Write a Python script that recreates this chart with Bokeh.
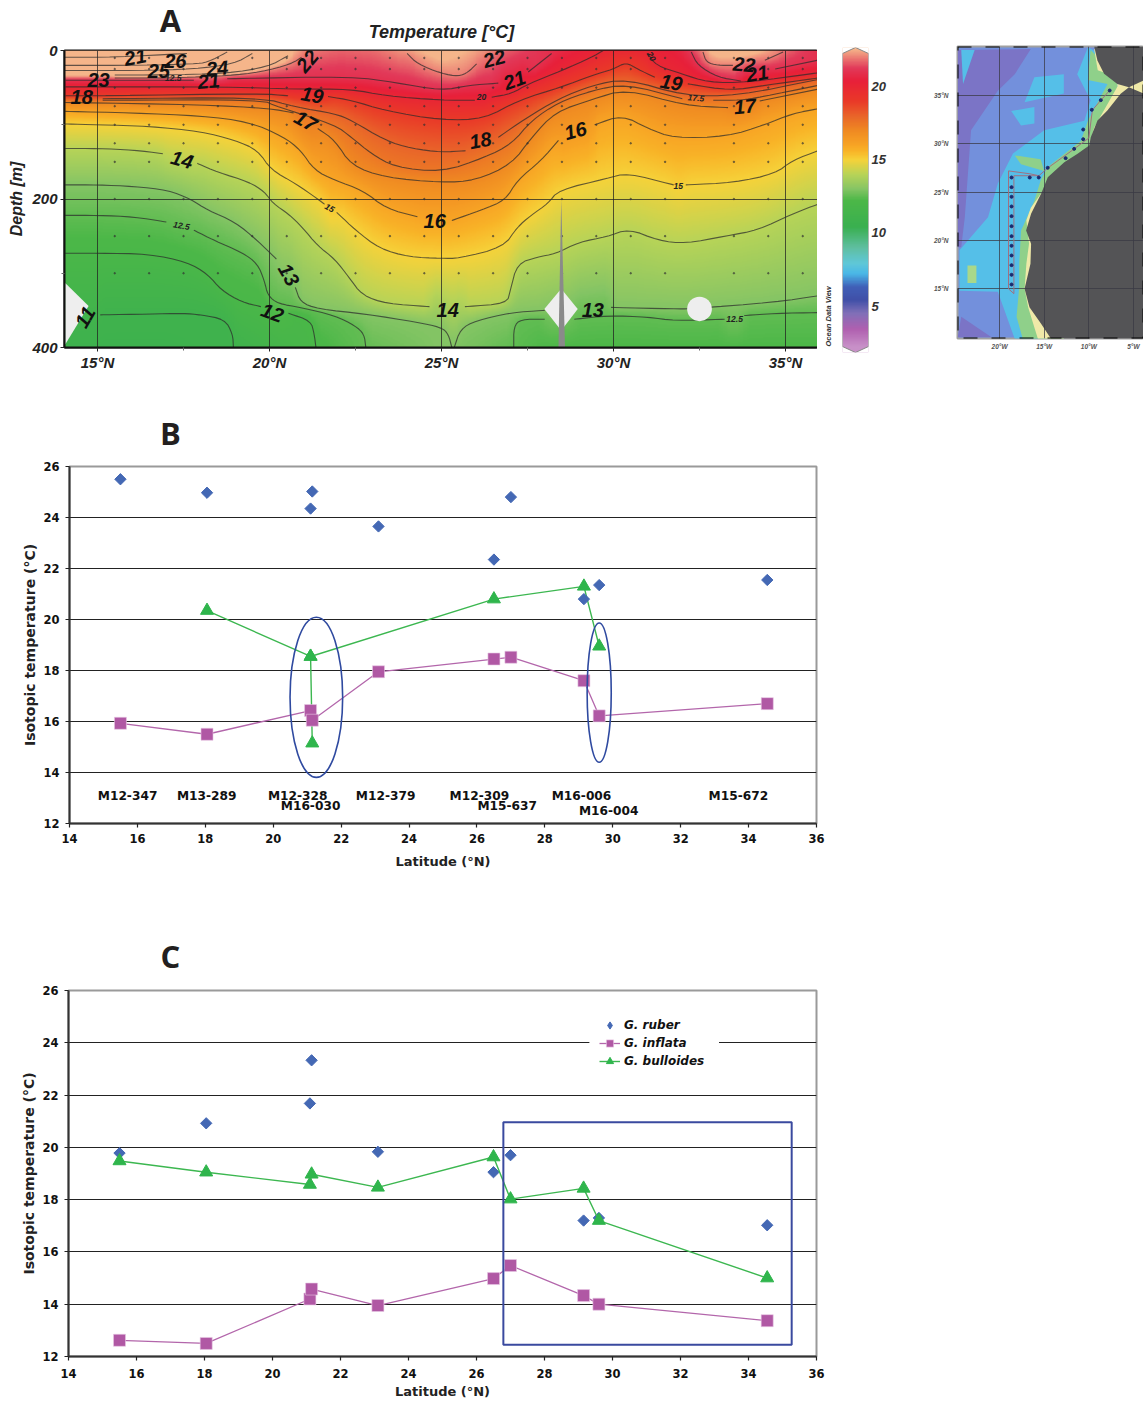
import numpy as np
from bokeh.plotting import figure
from bokeh.layouts import row, column
from bokeh.embed import file_html
from bokeh.resources import INLINE
from bokeh.models import FixedTicker, LinearColorMapper, Legend, LegendItem, LinearAxis
from bokeh.core.properties import value

# ---------- panel A: isotherms (T, latitudes, depths) ----------
iso_11 = (11, [15.08, 16.5, 17.5, 18.0, 18.7, 18.93, 18.95], [356, 355, 354, 356, 362, 382, 400])
iso_12a = (12, [14.06, 15, 16.5, 17.6, 18.2, 18.6, 19.2, 19.75], [273, 273, 274, 285, 301, 323, 339, 345])
iso_12b = (12, [20.55, 21.2, 21.3, 21.35], [354, 364, 382, 400])
iso_125a = (12.5, [14.06, 15, 16.05, 17.0], [222, 222, 224, 231])
iso_125b = (12.5, [17.8, 18.4, 19.2, 19.65, 19.85, 19.95, 20.25, 20.9, 21.9, 22.5, 22.75, 22.8],
            [242, 256, 272, 287, 310, 330, 341, 346, 357, 371, 382, 400])
iso_125c = (12.5, [27.1, 27.1, 27.3, 28.0], [400, 372, 362, 362])
iso_125d = (12.5, [28.86, 29.83, 31.0, 31.78, 33.23], [362, 357, 359, 364, 362])
iso_125e = (12.5, [33.8, 34.7, 36], [357, 354, 353])
iso_13a = (13, [14.06, 15, 16.05, 17.05, 17.7, 18.2, 19, 19.65, 20.2], [181, 181, 183, 188, 200, 215, 231, 256, 281])
iso_13b = (13, [20.75, 20.9, 21.4, 22.8, 24.3, 25, 25.2, 25.3], [319, 339, 348, 355, 366, 373, 382, 400])
iso_13c = (13, [25.37, 25.55, 26, 27, 28], [400, 375, 364, 353, 350])
iso_13d = (13, [29.93, 31.8, 32.2, 34.7, 36], [346, 348, 348, 339, 330])
iso_14a = (14, [14.06, 15, 16.05, 16.9], [132, 132, 134, 139])
iso_14b = (14, [17.9, 18.5, 19.4, 19.85, 20.1, 20.55, 20.95, 21.4, 21.9, 22.3, 22.7, 23.4, 24.65],
           [152, 164, 177, 190, 206, 220, 238, 263, 281, 305, 330, 341, 345])
iso_14c = (14, [25.68, 26.9, 27.0, 27.2, 27.8, 28.3, 29, 29.8, 30.45, 31.3, 32.1, 33.25, 34.2, 35.2, 36],
           [345, 341, 323, 287, 278, 274, 258, 251, 240, 256, 260, 250, 242, 220, 206])
iso_15a = (15, [14.06, 15, 16.5, 18, 19, 19.65, 20.05, 20.75, 21.4, 21.6], [99, 100, 102, 109, 121, 134, 161, 179, 200, 207])
iso_15b = (15, [21.95, 22, 22.5, 23.2, 24.05, 25, 25.5, 26.8, 27.2, 27.6, 28.1, 28.4, 29.83, 30.4, 31.75],
           [218, 220, 242, 267, 278, 280, 280, 265, 238, 222, 206, 188, 172, 165, 181])
iso_15c = (15, [32.1, 33.5, 34.7, 35.2, 36], [181, 178, 166, 148, 134])
iso_16a = (16, [14.06, 16, 18, 19.4, 20.4, 20.9, 21.3, 21.9, 22.7, 23.4, 24.3], [82, 84, 88, 96, 116, 134, 161, 175, 188, 213, 224])
iso_16b = (16, [25.3, 26.15, 26.85, 27.2, 27.9, 28.4], [229, 215, 202, 175, 148, 121])
iso_16c = (16, [29.45, 30.25, 31, 31.75, 33.3, 34.4, 35.2, 36], [100, 87, 105, 118, 116, 100, 85, 78])
iso_17a = (17, [14.06, 18, 20, 20.7], [70, 73, 78, 84])
iso_17b = (17, [21.4, 21.9, 22.38, 23.35, 25, 26, 27.04, 27.62, 28.3, 29.37, 30.36, 32.06, 33.33],
           [105, 121, 155, 171, 178, 175, 153, 117, 83, 66, 52, 74, 77])
iso_17c = (17, [34.25, 35.95], [68, 52])
iso_175a = (17.5, [15.15, 19.75, 20.25, 21.9, 22.38, 22.96, 23.64, 25, 26.26, 27.04, 27.62, 28.4, 29.37, 30.36, 32.0],
            [67, 66, 76, 100, 117, 139, 157, 164, 144, 126, 94, 70, 54, 45, 65])
iso_175b = (17.5, [32.9, 33.7, 34.25, 35.95], [67, 67, 63, 47])
iso_18a = (18, [15.15, 19.75, 20.73, 21.9, 22.38, 23.35, 24.13, 25, 25.7], [65, 63, 76, 85, 94, 121, 132, 137, 135])
iso_18b = (18, [26.65, 27.43, 28.4, 29.37, 30.36, 32.06, 33.6, 35.95], [117, 92, 65, 47, 38, 61, 61, 39])
iso_19a = (19, [14.07, 15.15, 19.75, 20.54], [61, 61, 58, 61])
iso_19b = (19, [21.7, 22.38, 23.35, 25, 26.26, 27.23, 28.5, 29.34, 30, 30.36, 30.7, 31.2], [62, 67, 81, 94, 92, 67, 49, 34, 25, 16, 25, 36])
iso_19c = (19, [32.16, 33.4, 34.4, 35.95], [45, 54, 47, 37])
iso_20a = (20, [14.07, 18.77, 20.73, 22.38, 23.35, 25, 25.97], [49, 49, 52, 52, 61, 67, 67])
iso_20b = (20, [26.46, 27.04, 27.52, 28.5, 29.37, 29.7], [63, 58, 45, 27, 9, 0])
iso_20c = (20, [31, 31.23, 31.96, 32.74, 33.9, 35.95], [4, 20, 31, 43, 43, 30])
iso_21a = (21, [14.07, 15.5, 17.8], [40, 40, 40])
iso_21b = (21, [18.77, 22.4, 23.64, 25, 25.78, 26.65], [38, 35, 43, 54, 47, 44])
iso_21c = (21, [27.52, 28.2], [29, 4])
iso_21d = (21, [32.26, 32.45, 33.03, 33.7], [2, 20, 36, 41])
iso_21e = (21, [34.7, 35.95], [25, 13])
iso_22a = (22, [15.5, 16.8, 17.7, 18.77, 19.75, 20.64, 20.93], [37, 37, 36, 34, 29, 18, 9])
iso_22b = (22, [24, 24.3, 25, 25.5, 25.78, 26.02], [4, 18, 31, 35, 29, 18])
iso_22c = (22, [32.6, 32.7, 33.03, 33.47], [2, 16, 20, 20])
iso_22d = (22, [34.4, 34.93], [13, 2])
iso_23a = (23, [15.5, 16.8, 18.77, 19.95, 20.54], [33, 33, 31, 22, 7])
iso_24a = (24, [14, 16.2, 17.8, 18.97, 19.5], [27, 27, 25, 18, 4])
iso_25a = (25, [14, 16.3, 17.8, 18.2, 18.77], [20, 20, 18, 16, 2])
iso_26a = (26, [14, 15.5, 17.6], [9, 9, 4])

isotherms = [iso_11, iso_12a, iso_12b, iso_125a, iso_125b, iso_125c, iso_125d, iso_125e, iso_13a, iso_13b,
             iso_13c, iso_13d, iso_14a, iso_14b, iso_14c, iso_15a, iso_15b, iso_15c, iso_16a, iso_16b, iso_16c,
             iso_17a, iso_17b, iso_17c, iso_175a, iso_175b, iso_18a, iso_18b, iso_19a, iso_19b, iso_19c,
             iso_20a, iso_20b, iso_20c, iso_21a, iso_21b, iso_21c, iso_21d, iso_21e, iso_22a, iso_22b, iso_22c,
             iso_22d, iso_23a, iso_24a, iso_25a, iso_26a]

column_lat = list(range(14, 37))
surface_t = [27, 27, 27, 27, 27, 26, 24, 22, 21.7, 21.8, 22.3, 23, 22.4, 21.6, 21, 20.4, 19.9, 20, 20.6, 23, 23, 21.8, 20.9]
bottom_t = [10.8, 10.8, 10.8, 10.8, 10.9, 11, 11.5, 11.9, 12.3, 12.6, 12.8, 13, 12.8, 12.5, 12.2, 12.2, 12.2, 12.2, 12.2, 12.2, 12.2, 12.2, 12.2]

big_labels = [("21", 16.1, 9, 10), ("26", 17.26, 14, 0), ("25", 16.78, 27, 0), ("24", 18.48, 24, 5), ("23", 15.03, 40, 0),
              ("21", 18.23, 41, 5), ("18", 14.54, 63, 0), ("22", 21.1, 14, 50), ("19", 21.24, 60, -10), ("17", 21.05, 95, -30),
              ("14", 17.46, 147, -15), ("16", 24.8, 229, 0), ("13", 20.56, 302, -60), ("12", 20.08, 353, -20), ("14", 25.18, 350, 0),
              ("11", 14.64, 359, 60), ("22", 26.53, 11, 15), ("21", 27.12, 40, 20), ("18", 26.13, 121, 10), ("16", 28.89, 108, 15),
              ("13", 29.4, 350, 0), ("19", 31.68, 43, -10), ("22", 33.8, 19, -5), ("21", 34.18, 31, 10), ("17", 33.82, 75, 5)]
small_labels = [("15", 21.75, 212, -30), ("12.5", 17.44, 236, -10), ("20", 26.16, 63, 0), ("17.5", 32.4, 64, -5),
                ("15", 31.88, 183, 0), ("12.5", 33.52, 361, 0), ("12.5", 17.2, 37, 0), ("20", 31.1, 8, -60)]

station_lat = [15.5, 16.5, 17.5, 18.5, 19.5, 20.5, 21.5, 22.5, 23.5, 24.5, 25.5, 26.5, 27.5, 28.5, 29.5, 30.5, 31.5, 33.5, 34.5, 35.5]
sample_depth = [10, 25, 50, 75, 100, 125, 150, 200, 250, 300]

ct_values = [2.2, 3.4, 4.5, 5.4, 6.3, 7.2, 7.9, 9, 10.4, 12.2, 13, 14, 15, 15.6, 16, 17, 18, 19, 20.4, 21.3, 22.6]
ct_colors = ["#c890c8", "#b060b0", "#8070b8", "#4050a8", "#4060b8", "#4ab8e8", "#60c8d8", "#5fbfa0", "#3ab050",
             "#4cb848", "#85c565", "#b8d458", "#f6d23a", "#f9b428", "#f8a525", "#f08a22", "#e9652a", "#ea3a28",
             "#e8203a", "#e23a5a", "#f5b58a"]

# ---------- panels B and C ----------
lat = [15.5, 18.05, 21.1, 21.15, 23.1, 26.5, 27.0, 29.15, 29.6, 34.55]
b_ruber = [25.5, 24.97, 24.35, 25.02, 23.65, 22.35, 24.8, 20.8, 21.35, 21.55]
b_inflata = [15.93, 15.5, 16.43, 16.05, 17.95, 18.45, 18.52, 17.6, 16.22, 16.7]
b_bull_lat = [18.05, 21.1, 21.15, 21.1, 26.5, 29.15, 29.6]
b_bull = [20.35, 18.55, 15.15, 18.55, 20.8, 21.3, 18.95]
c_ruber = [19.78, 20.92, 21.68, 23.33, 19.83, 19.05, 19.7, 17.2, 17.3, 17.02]
c_inflata = [12.62, 12.5, 14.2, 14.58, 13.95, 14.98, 15.48, 14.33, 14.0, 13.37]
c_bull = [19.48, 19.05, 18.58, 18.97, 18.47, 19.63, 18.02, 18.43, 17.2, 15.0]
core_names = ["M12-347", "M13-289", "M12-328", "M16-030", "M12-379", "M12-309", "M15-637", "M16-006", "M16-004", "M15-672"]
core_x = [15.71, 18.04, 20.72, 21.10, 23.31, 26.07, 26.89, 29.08, 29.88, 33.70]
core_y = [13.07, 13.07, 13.07, 12.68, 13.07, 13.07, 12.68, 13.07, 12.48, 13.07]
tick_x = [14, 16, 18, 20, 22, 24, 26, 28, 30, 32, 34, 36]
tick_y = [12, 14, 16, 18, 20, 22, 24, 26]

# ---------- map (lon, lat) ----------
map_purple = ([-24.7, -16.5, -18.3, -20.2, -23.2, -23.9, -24.3, -24.7], [39.7, 39.8, 37.2, 35.5, 31.4, 22.4, 19.3, 19.3])
map_purple2 = ([-24.3, -20.9, -24.7], [12.1, 10, 10])
map_cyan = ([-10.1, -11.3, -9.8, -10.5, -15, -18.5, -20.2, -21.3, -24.5, -24.5, -20.2, -18.3, -12.8, -6.8, -6.8],
            [40, 37.2, 34.5, 32.4, 31.4, 29, 25.9, 22.4, 19, 14.8, 14.7, 9.8, 9.8, 31.4, 38.3])
map_cyan2 = ([-24.3, -22.8, -24.1], [39.7, 39.7, 36.2])
map_cyan3 = ([-16.1, -12.8, -12.8, -17.2], [36.9, 37.2, 35.2, 34.3])
map_cyan4 = ([-18.7, -16.1, -16.1, -17.6], [33.4, 33.8, 32.1, 31.9])
map_green = ([-9.8, -10.1, -7.9, -10.1, -10.9, -14.6, -15.4, -16.1, -17.6, -17.8, -17.8, -18.1, -17.4, -12.8, -6.8, -6.8],
             [39.7, 36.6, 36.2, 32.4, 30.3, 27.6, 26.2, 24.1, 21, 17.6, 15.2, 12.1, 9.8, 9.8, 31.4, 36.9])
map_green2 = ([-18.3, -15.4, -15, -17.6], [28.8, 28.4, 27.2, 27.9])
map_green3 = ([-23.6, -22.6, -22.6, -23.6], [17.4, 17.4, 15.6, 15.6])
map_yellow = ([-9.4, -9, -6.8, -6.8, -9.4, -10.1, -14.6, -15.4, -16.5, -17, -16.7, -17, -17.2, -16.8, -15.7, -12.8, -3.87, -3.87],
              [39.8, 37.6, 36.9, 35.9, 31.7, 29.3, 25.9, 24.8, 23.4, 22.1, 19.7, 17.6, 15, 13.1, 9.8, 9.8, 31.4, 38.3])
map_africa = ([-5.5, -6.43, -7.92, -9.03, -9.78, -9.96, -11.26, -12.75, -14.6, -15.35, -16.47, -17.03, -16.47, -16.54, -17.2, -16.65, -15.35, -14.24, -3.87, -3.87],
              [35.86, 35.17, 33.45, 32.41, 30.69, 29.83, 28.97, 28.1, 26.55, 24.83, 22.76, 21.03, 19.66, 17.59, 15, 13.1, 11.38, 9.83, 9.83, 35.2])
map_iberia = ([-9.4, -9.03, -8.29, -6.8, -5.5, -3.87, -3.87], [40.07, 38.62, 37.24, 36.2, 35.86, 36.55, 40.07])
map_st_lon = [-18.66] * 12 + [-16.62, -15.61, -14.61, -12.6, -11.64, -10.63, -10.63, -9.67, -8.66, -7.66]
map_st_lat = [26.52, 25.52, 24.52, 23.52, 22.52, 21.48, 20.45, 19.45, 18.45, 17.45, 16.45, 15.45,
              26.52, 26.52, 27.52, 28.52, 29.48, 30.48, 31.48, 33.52, 34.52, 35.52]
track_lon = [-18.4, -18.4, -15.6, -14.6, -11.6, -10.0, -9.6, -7.6]
track_lat = [14.5, 26.7, 26.7, 27.5, 29.5, 30.6, 33.5, 35.6]
track2_lon = [-18.4, -19, -19, -16.6, -15.6]
track2_lat = [14.5, 15.0, 27.2, 26.9, 26.7]


def chaikin(xs, ys, rounds=2):
    # corner rounding of a polyline for drawing; the end points stay where they were read
    x, y = np.asarray(xs, float), np.asarray(ys, float)
    for _ in range(rounds):
        if x.size < 3:
            break
        qx, qy = 0.75 * x[:-1] + 0.25 * x[1:], 0.75 * y[:-1] + 0.25 * y[1:]
        rx, ry = 0.25 * x[:-1] + 0.75 * x[1:], 0.25 * y[:-1] + 0.75 * y[1:]
        x = np.concatenate(([x[0]], np.column_stack((qx, rx)).ravel(), [x[-1]]))
        y = np.concatenate(([y[0]], np.column_stack((qy, ry)).ravel(), [y[-1]]))
    return x, y


smooth = [(T,) + chaikin(xs, ds) for T, xs, ds in isotherms]

# ---------- field built from the isotherms, column by column ----------
grid_lat = np.linspace(14.04, 35.93, 420)
grid_dep = np.linspace(0, 400, 400)
surf = np.interp(grid_lat, column_lat, surface_t)
bott = np.interp(grid_lat, column_lat, bottom_t)
field = np.zeros((grid_dep.size, grid_lat.size))
for j, la0 in enumerate(grid_lat):
    la = max(la0, 14.08)
    pts = [(0.0, surf[j]), (400.0, bott[j])]
    for T, xs, ds in smooth:
        if xs[0] <= la <= xs[-1]:
            o = np.argsort(xs)
            d = float(np.interp(la, xs[o], ds[o]))
            if 0 < d < 400:
                pts.append((d, float(T)))
    pts.sort()
    field[:, j] = np.interp(grid_dep, [a for a, _ in pts], [b for _, b in pts])
kernel = np.ones(7) / 7
field = np.apply_along_axis(lambda r: np.convolve(np.pad(r, 3, mode="edge"), kernel, "valid"), 1, field)


def hex2rgb(h):
    return [int(h[i:i + 2], 16) for i in (1, 3, 5)]


pal_t = np.linspace(ct_values[0], ct_values[-1], 512)
rgb = np.array([hex2rgb(c) for c in ct_colors], float)
palette = ["#%02x%02x%02x" % tuple(int(np.interp(t, ct_values, rgb[:, k])) for k in range(3)) for t in pal_t]
mapper = LinearColorMapper(palette=palette, low=ct_values[0], high=ct_values[-1])

SANS = "Liberation Sans"
VERD = "DejaVu Sans"
COMMON = dict(output_backend="svg", toolbar_location=None, frame_align=False)


def strip(width, height, items):
    # a text-only plot whose range is its own size in pixels, for the texts that sit outside a frame
    p = figure(width=width, height=height, x_range=(0, width), y_range=(height, 0), x_axis_location=None,
               y_axis_location=None, min_border=0, **COMMON)
    p.grid.visible = False
    p.outline_line_color = None
    for txt, x_, y_, font, style, size, col, ang, al in items:
        p.text([x_], [y_], text=[txt], angle=np.deg2rad(ang), text_font=value(font), text_font_style=style,
               text_font_size=size, text_color=col, text_align=al, text_baseline="middle")
    return p


strip_a = strip(835, 42, [("A", 170, 19, "Open Sans", "bold", "31px", "#231f20", 0, "center"),
                          ("Temperature [°C]", 441, 31, SANS, "bold italic", "18px", "#222222", 0, "center")])
strip_odv = strip(18, 358, [("Ocean Data View", 11, 304, SANS, "bold italic", "7.5px", "#333333", 90, "left")])
strip_b = strip(835, 56, [("B", 170, 32, "Open Sans", "bold", "31px", "#231f20", 0, "center")])
strip_c = strip(835, 100, [("C", 170, 75, "Open Sans", "bold", "31px", "#231f20", 0, "center")])

# ---------- panel A figure ----------
pa = figure(width=817, height=358, x_range=(14.04, 35.93), y_range=(400, 0), min_border_left=64, min_border_right=0,
            min_border_top=8, min_border_bottom=53, **COMMON)
pa.image(image=[field], x=14.04, y=0, dw=21.89, dh=400, color_mapper=mapper, level="image")
pa.xgrid.ticker = FixedTicker(ticks=[15, 20, 25, 30, 35])
pa.ygrid.ticker = FixedTicker(ticks=[200])
pa.grid.grid_line_color = "#222222"
pa.grid.grid_line_alpha = 0.75
pa.grid.grid_line_width = 1
for T, xs, ds in smooth:
    pa.line(xs, ds, line_color="#2b2b2b", line_alpha=0.72, line_width=1.1)
sx = [a for a in station_lat for _ in sample_depth]
sy = [d for _ in station_lat for d in sample_depth]
pa.scatter(sx, sy, size=1.6, color="#333333", alpha=0.55)
pa.patch([14.06, 14.74, 14.06], [313, 344, 396], fill_color="#eeeeee", line_color=None)
pa.patch([27.99, 28.48, 28.96, 28.48], [348, 321, 348, 377], fill_color="#eeeeee", line_color=None)
pa.patch([28.40, 28.48, 28.59], [400, 200, 400], fill_color="#8a8a8a", line_color=None)
pa.ellipse([32.5], [348], width=0.72, height=33, fill_color="#eeeeee", line_color=None)
for txt, x_, y_, ang in big_labels:
    pa.text([x_], [y_], text=[txt], angle=np.deg2rad(ang), text_font=value(SANS), text_font_style="bold italic",
            text_font_size="20px", text_align="center", text_baseline="middle", text_color="#111111")
for txt, x_, y_, ang in small_labels:
    pa.text([x_], [y_], text=[txt], angle=np.deg2rad(ang), text_font=value(SANS), text_font_style="bold italic",
            text_font_size="8.5px", text_align="center", text_baseline="middle", text_color="#222222")
pa.outline_line_color = "#111111"
pa.outline_line_width = 2
pa.xaxis.ticker = FixedTicker(ticks=[15, 20, 25, 30, 35], minor_ticks=[17.5, 22.5, 27.5, 32.5])
pa.xaxis.major_label_overrides = {15: "15°N", 20: "20°N", 25: "25°N", 30: "30°N", 35: "35°N"}
pa.yaxis.ticker = FixedTicker(ticks=[0, 200, 400], minor_ticks=[100, 300])
pa.yaxis.axis_label = "Depth [m]"
for ax in (pa.xaxis[0], pa.yaxis[0]):
    ax.major_label_text_font = SANS
    ax.major_label_text_font_style = "bold italic"
    ax.major_label_text_font_size = "15px"
    ax.major_label_text_color = "#222222"
    ax.axis_line_color = "#111111"
    ax.axis_line_width = 2
    ax.major_tick_line_color = "#222222"
    ax.minor_tick_line_color = "#666666"
    ax.major_tick_out = 4
    ax.major_tick_in = 0
    ax.minor_tick_out = 3
    ax.minor_tick_in = 0
pa.xaxis[0].major_label_standoff = 2
pa.yaxis[0].major_label_standoff = 3
pa.yaxis[0].axis_label_text_font = SANS
pa.yaxis[0].axis_label_text_font_style = "bold italic"
pa.yaxis[0].axis_label_text_font_size = "16px"
pa.yaxis[0].axis_label_text_color = "#222222"
pa.yaxis[0].axis_label_standoff = 4

# ---------- colour bar figure ----------
bar_t = np.linspace(1.84, 22.66, 400).reshape(-1, 1)
pb_bar = figure(width=95, height=400, x_range=(0, 1), y_range=(1.84, 22.66), min_border_left=7, min_border_right=62,
                min_border_top=47, min_border_bottom=48, **COMMON)
pb_bar.image(image=[bar_t], x=0, y=1.84, dw=1, dh=20.82, color_mapper=mapper)
for xs, ys in (([0, 0.5, 0], [22.66, 22.66, 22.25]), ([1, 0.5, 1], [22.66, 22.66, 22.25]),
               ([0, 0.5, 0], [1.84, 1.84, 2.25]), ([1, 0.5, 1], [1.84, 1.84, 2.25])):
    pb_bar.patch(xs, ys, fill_color="white", line_color=None)
pb_bar.line([0, 0.5, 1, 1, 0.5, 0, 0], [22.25, 22.66, 22.25, 2.25, 1.84, 2.25, 22.25], line_color="#888888", line_width=1)
pb_bar.grid.visible = False
pb_bar.outline_line_color = None
pb_bar.xaxis.visible = False
pb_bar.yaxis.visible = False
bar_axis = LinearAxis(ticker=FixedTicker(ticks=[5, 10, 15, 20]), major_label_text_font=SANS,
                      major_label_text_font_style="bold italic", major_label_text_font_size="13px",
                      major_label_text_color="#333333", axis_line_color=None, major_tick_line_color=None,
                      minor_tick_line_color=None, major_tick_out=0, major_tick_in=0, major_label_standoff=3)
pb_bar.add_layout(bar_axis, "right")

# ---------- map figure ----------
pm = figure(width=213, height=400, x_range=(-24.72, -3.87), y_range=(9.86, 40.07), min_border_left=26, min_border_right=0,
            min_border_top=46, min_border_bottom=62, **COMMON)
pm.background_fill_color = "#7390dc"
for poly, col in ((map_purple, "#7b74c6"), (map_purple2, "#7b74c6"), (map_cyan, "#55bfe8"), (map_cyan2, "#55bfe8"),
                  (map_cyan3, "#55bfe8"), (map_cyan4, "#55bfe8"), (map_green, "#8fd08a"), (map_green2, "#8fd08a"),
                  (map_green3, "#a9d88a"), (map_yellow, "#efe9a8"), (map_africa, "#545456"), (map_iberia, "#545456")):
    pm.patch(poly[0], poly[1], fill_color=col, line_color=None, level="image")
pm.xgrid.ticker = FixedTicker(ticks=[-20, -15, -10, -5])
pm.ygrid.ticker = FixedTicker(ticks=[15, 20, 25, 30, 35])
pm.grid.grid_line_color = "#3a3a44"
pm.grid.grid_line_alpha = 0.75
pm.grid.grid_line_width = 1
pm.line(track_lon, track_lat, line_color="#a07080", line_width=1)
pm.line(track2_lon, track2_lat, line_color="#a07080", line_width=1)
pm.scatter(map_st_lon, map_st_lat, size=3, color="#1a2a70")
pm.outline_line_color = "#a0a0a0"
pm.outline_line_width = 2
pm.quad(left=[-24.72], right=[-3.87], bottom=[9.86], top=[40.07], fill_color=None, line_color="#000000",
        line_width=2, line_dash="14 14")
pm.xaxis.ticker = FixedTicker(ticks=[-20, -15, -10, -5])
pm.xaxis.major_label_overrides = {-20: "20°W", -15: "15°W", -10: "10°W", -5: "5°W"}
pm.yaxis.ticker = FixedTicker(ticks=[15, 20, 25, 30, 35])
pm.yaxis.major_label_overrides = {15: "15°N", 20: "20°N", 25: "25°N", 30: "30°N", 35: "35°N"}
for ax in (pm.xaxis[0], pm.yaxis[0]):
    ax.major_label_text_font = SANS
    ax.major_label_text_font_style = "bold italic"
    ax.major_label_text_font_size = "6.5px"
    ax.major_label_text_color = "#555555"
    ax.axis_line_color = None
    ax.major_tick_line_color = None
    ax.minor_tick_line_color = None
    ax.major_label_standoff = 3
pm.xaxis[0].major_tick_out = 0
pm.xaxis[0].major_label_standoff = 4
pm.yaxis[0].major_label_orientation = "horizontal"


# ---------- B and C figures ----------
def iso_figure(height, bottom, left, tick_std, label_std):
    p = figure(width=835, height=height, x_range=(14, 36), y_range=(12, 26), min_border_left=left, min_border_right=19,
               min_border_top=10, min_border_bottom=bottom, **COMMON)
    p.xgrid.visible = False
    p.ygrid.ticker = FixedTicker(ticks=tick_y[1:-1])
    p.ygrid.grid_line_color = "#222222"
    p.ygrid.grid_line_width = 1.2
    p.outline_line_color = "#9a9a9a"
    p.outline_line_width = 2
    p.xaxis.ticker = FixedTicker(ticks=tick_x)
    p.yaxis.ticker = FixedTicker(ticks=tick_y)
    p.xaxis.axis_label = "Latitude (°N)"
    p.yaxis.axis_label = "Isotopic temperature (°C)"
    for ax in (p.xaxis[0], p.yaxis[0]):
        ax.major_label_text_font = VERD
        ax.major_label_text_font_style = "bold"
        ax.major_label_text_font_size = "11.5px"
        ax.major_label_text_color = "#111111"
        ax.axis_label_text_font = VERD
        ax.axis_label_text_font_style = "bold"
        ax.axis_label_text_font_size = "13px"
        ax.axis_label_text_color = "#222222"
        ax.axis_line_color = "#333333"
        ax.axis_line_width = 2
        ax.major_tick_line_color = "#222222"
        ax.major_tick_line_width = 1.2
        ax.major_tick_out = 4
        ax.major_tick_in = 0
        ax.minor_tick_line_color = None
        ax.major_label_standoff = 6
    p.xaxis[0].major_label_standoff = tick_std
    p.xaxis[0].axis_label_standoff = label_std
    p.yaxis[0].axis_label_standoff = 2
    p.yaxis[0].axis_label_text_font_size = "14px"
    return p


BLUE = "#4468b4"
PINK = "#b058a4"
GREEN = "#2fb54c"
LPINK = "#b366ab"
LGREEN = "#3cb750"
BAND = "#2f4aa0"
QUARTER = np.pi / 4

pB = iso_figure(424, 57, 69, 6, 8)
pB.line(lat, b_inflata, line_color=LPINK, line_width=1.3)
pB.line(b_bull_lat, b_bull, line_color=LGREEN, line_width=1.4)
pB.scatter(lat, b_ruber, marker="square", angle=QUARTER, size=8, color=BLUE)
pB.scatter(lat, b_inflata, marker="square", size=12, color=PINK, line_color="#e8c8e4", line_width=0.6)
pB.scatter(b_bull_lat, b_bull, marker="triangle", size=13, color=GREEN)
pB.ellipse([21.27, 29.6], [16.95, 17.13], width=[1.55, 0.71], height=[6.28, 5.46], fill_color=None, line_color=BAND, line_width=1.6)
pB.text(core_x, core_y, text=core_names, text_font=value(VERD), text_font_style="bold", text_font_size="12.2px",
        text_align="center", text_baseline="middle", text_color="#111111")

pC = iso_figure(421, 45, 68, 8, 3)
key1 = pC.scatter(lat, c_ruber, marker="diamond", size=9, color=BLUE)
r1 = pC.scatter(lat, c_ruber, marker="square", angle=QUARTER, size=8, color=BLUE)
l2 = pC.line(lat, c_inflata, line_color=LPINK, line_width=1.3)
r2 = pC.scatter(lat, c_inflata, marker="square", size=12, color=PINK, line_color="#e8c8e4", line_width=0.6)
l3 = pC.line(lat, c_bull, line_color=LGREEN, line_width=1.4)
r3 = pC.scatter(lat, c_bull, marker="triangle", size=13, color=GREEN)
pC.quad(left=[26.79], right=[35.27], bottom=[12.45], top=[20.96], fill_color=None, line_color="#3a4a9f", line_width=2)
pC.quad(left=[29.32], right=[29.7], bottom=[23.8], top=[24.2], fill_color="white", line_color=None)
legend = Legend(items=[LegendItem(label=value("G. ruber"), renderers=[key1]),
                       LegendItem(label=value("G. inflata"), renderers=[l2, r2]),
                       LegendItem(label=value("G. bulloides"), renderers=[l3, r3])],
                location=(531, 286), orientation="vertical", label_text_font=VERD, label_text_font_style="bold italic",
                label_text_font_size="12px", label_text_color="#111111", border_line_color=None,
                background_fill_color="white", background_fill_alpha=1, glyph_width=21, glyph_height=18,
                label_standoff=4, spacing=0, padding=0, margin=0, label_height=14, label_width=95)
pC.add_layout(legend, "center")

left_a = column(strip_a, row(pa, strip_odv))
top_row = row(left_a, pb_bar, pm)
page = column(top_row, strip_b, pB, strip_c, pC)
open("out.html", "w").write(file_html(page, INLINE))
